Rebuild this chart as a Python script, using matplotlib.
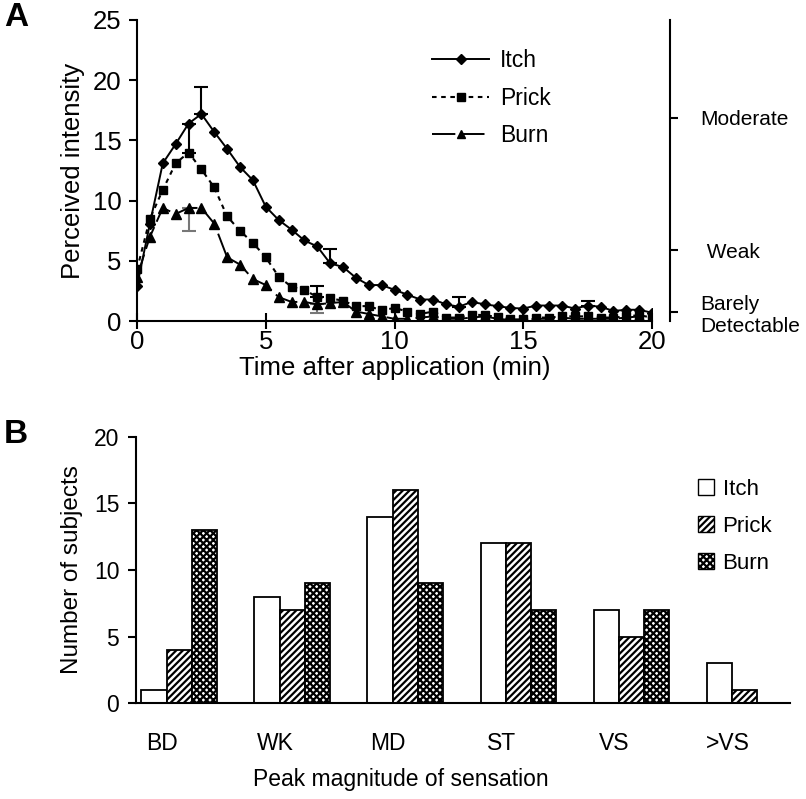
import matplotlib
matplotlib.use("Agg")
import matplotlib.pyplot as plt
from matplotlib.patches import Patch

plt.rcParams['font.family'] = ['Liberation Sans', 'DejaVu Sans']
plt.rcParams['hatch.linewidth'] = 1.6

# ---------------- Panel A data ----------------
time_min = [0, 0.5, 1, 1.5, 2, 2.5, 3, 3.5, 4, 4.5, 5, 5.5, 6, 6.5, 7, 7.5, 8, 8.5, 9, 9.5,
            10, 10.5, 11, 11.5, 12, 12.5, 13, 13.5, 14, 14.5, 15, 15.5, 16, 16.5, 17, 17.5,
            18, 18.5, 19, 19.5, 20]
itch = [2.9, 8.1, 13.1, 14.7, 16.4, 17.2, 15.7, 14.3, 12.8, 11.7, 9.5, 8.4, 7.6, 6.7, 6.2,
        4.8, 4.5, 3.6, 3.0, 3.0, 2.6, 2.2, 1.8, 1.8, 1.4, 1.2, 1.6, 1.4, 1.25, 1.1, 1.05,
        1.3, 1.3, 1.3, 1.05, 1.3, 1.2, 0.85, 0.95, 0.95, 0.7]
prick = [4.3, 8.5, 10.9, 13.1, 14.0, 12.6, 11.1, 8.7, 7.5, 6.5, 5.3, 3.7, 2.85, 2.6, 2.0,
         1.9, 1.7, 1.25, 1.25, 0.9, 1.1, 0.8, 0.6, 0.8, 0.3, 0.3, 0.55, 0.5, 0.35, 0.15,
         0.15, 0.3, 0.3, 0.4, 0.4, 0.4, 0.3, 0.3, 0.4, 0.5, 0.3]
burn = [3.7, 7.0, 9.4, 8.9, 9.4, 9.4, 8.1, 5.3, 4.7, 3.5, 3.0, 2.0, 1.6, 1.6, 1.4, 1.5,
        1.6, 0.8, 0.6, 0.4, 0.2, 0.2, 0.3, 0.4, 0.2, 0.2, 0.3, 0.4, 0.2, 0.1, 0.1, 0.2,
        0.2, 0.3, 0.2, 0.2, 0.2, 0.2, 0.3, 0.4, 0.3]

itch_err_t = [2.5, 7.5, 12.5, 17.5]
itch_err = [2.2, 1.2, 0.8, 0.4]
prick_err_t = [2.0, 7.0]
prick_err = [2.4, 0.9]
burn_err_t = [2.0, 7.0]
burn_err = [1.9, 0.75]

scale_ticks = [0.8, 5.9, 16.9]
scale_labels = ['Barely\nDetectable', ' Weak', 'Moderate']

# ---------------- Panel B data ----------------
categories = ['BD', 'WK', 'MD', 'ST', 'VS', '>VS']
n_itch = [1, 8, 14, 12, 7, 3]
n_prick = [4, 7, 16, 12, 5, 1]
n_burn = [13, 9, 9, 7, 7, 0]

FS_A = 18.5
FS_B = 16.5
FS_BL = 17.5

fig = plt.figure(figsize=(8.06, 7.99), dpi=100)

# ---------------- Panel A ----------------
ax = fig.add_axes([0.170, 0.598, 0.639, 0.377])
ax.plot(time_min, itch, color='black', lw=1.4, marker='D', ms=5.5, label='Itch', zorder=3)
ax.plot(time_min, prick, color='black', lw=1.5, ls=(0, (2.2, 2.2)), marker='s', ms=6,
        label='Prick', zorder=3)
ax.plot(time_min, burn, color='black', lw=1.4, ls=(0, (12, 3)), marker='^', ms=7,
        label='Burn', zorder=3)


def err_vals(series, times):
    return [series[time_min.index(t)] for t in times]


ax.errorbar(itch_err_t, err_vals(itch, itch_err_t), yerr=[[0] * len(itch_err), itch_err],
            fmt='none', ecolor='black', elinewidth=1.5, capsize=5, capthick=1.5, zorder=2)
ax.errorbar(prick_err_t, err_vals(prick, prick_err_t), yerr=[[0] * len(prick_err), prick_err],
            fmt='none', ecolor='black', elinewidth=1.5, capsize=5, capthick=1.5, zorder=2)
ax.errorbar(burn_err_t, err_vals(burn, burn_err_t), yerr=[burn_err, [0] * len(burn_err)],
            fmt='none', ecolor='#777777', elinewidth=1.5, capsize=5, capthick=1.5, zorder=2)

ax.set_xlim(0, 20)
ax.set_ylim(0, 25)
ax.set_xticks([0, 5, 10, 15, 20])
ax.set_yticks([0, 5, 10, 15, 20, 25])
ax.spines['top'].set_visible(False)
ax.spines['right'].set_visible(False)
for s in ['left', 'bottom']:
    ax.spines[s].set_linewidth(1.5)
ax.tick_params(axis='y', direction='out', length=6, width=1.5, labelsize=FS_A, pad=5)
ax.tick_params(axis='x', direction='inout', length=12, width=1.5, labelsize=FS_A, pad=0)
ax.set_xlabel('Time after application (min)', fontsize=FS_A, labelpad=2)
ax.set_ylabel('Perceived intensity', fontsize=FS_A, labelpad=6)

ax.legend(loc='upper left', bbox_to_anchor=(0.573, 0.902), frameon=False,
          fontsize=16.5, handlelength=2.5, handletextpad=0.45, labelspacing=0.62,
          borderpad=0, borderaxespad=0, markerscale=0.85)

ax2 = ax.twinx()
ax2.set_ylim(0, 25)
ax2.spines['top'].set_visible(False)
ax2.spines['left'].set_visible(False)
ax2.spines['bottom'].set_visible(False)
ax2.spines['right'].set_position(('outward', 13))
ax2.spines['right'].set_linewidth(1.5)
ax2.set_yticks(scale_ticks)
ax2.set_yticklabels(scale_labels, ha='left', fontsize=15)
ax2.tick_params(axis='y', direction='out', length=6, width=1.5, pad=16)

fig.text(0.005, 0.997, 'A', fontsize=24, fontweight='bold', va='top')

# ---------------- Panel B ----------------
bx = fig.add_axes([0.1687, 0.1201, 0.811, 0.333])
w = 0.2235
d = 0.04
pos = list(range(len(categories)))
bx.bar([p + d - w / 2 for p in pos], n_itch, width=w, color='white', edgecolor='black',
       lw=1.3, label='Itch')
bx.bar([p + d + w / 2 for p in pos], n_prick, width=w, color='white', edgecolor='black',
       lw=1.3, hatch='/////', label='Prick')
bx.bar([p + d + 1.5 * w for p in pos], n_burn, width=w, color='white', edgecolor='black',
       lw=1.3, hatch='xxxxx', label='Burn')

bx.set_xlim(-0.23, 5.55)
bx.set_ylim(0, 20)
bx.set_yticks([0, 5, 10, 15, 20])
bx.set_xticks(pos)
bx.set_xticklabels(categories)
bx.spines['top'].set_visible(False)
bx.spines['right'].set_visible(False)
for s in ['left', 'bottom']:
    bx.spines[s].set_linewidth(1.5)
bx.tick_params(axis='y', direction='out', length=6, width=1.5, labelsize=FS_B, pad=6)
bx.tick_params(axis='x', length=0, labelsize=FS_B, pad=21)
bx.set_xlabel('Peak magnitude of sensation', fontsize=FS_B, labelpad=14)
bx.xaxis.set_label_coords(0.405, -0.245)
bx.set_ylabel('Number of subjects', fontsize=FS_BL, labelpad=8)

handles = [Patch(facecolor='white', edgecolor='black', label='Itch'),
           Patch(facecolor='white', edgecolor='black', hatch='/////', label='Prick'),
           Patch(facecolor='white', edgecolor='black', hatch='xxxxx', label='Burn')]
bx.legend(handles=handles, loc='upper left', bbox_to_anchor=(0.86, 0.842), frameon=False,
          fontsize=16, handlelength=0.7, handleheight=0.7, handletextpad=0.4,
          labelspacing=0.72, borderpad=0, borderaxespad=0)

fig.text(0.005, 0.475, 'B', fontsize=24, fontweight='bold', va='top')

fig.savefig('out.png', dpi=100)
